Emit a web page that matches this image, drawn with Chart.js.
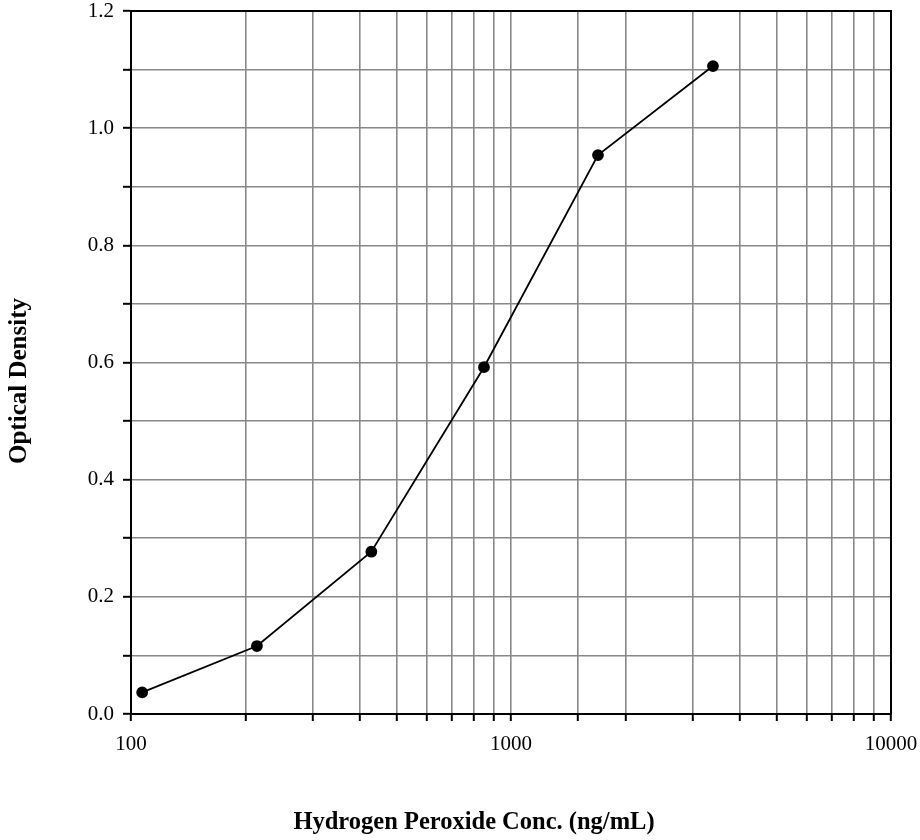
<!DOCTYPE html>
<html>
<head>
<meta charset="utf-8">
<script src="https://cdn.jsdelivr.net/npm/chart.js@4.4.1/dist/chart.umd.min.js"></script>
<style>
  body { margin: 0; background: #ffffff; }
  canvas { display: block; }
</style>
</head>
<body>
<canvas id="odChart" width="920" height="840"></canvas>
<script>
// standard curve data
const concentrations = [107, 214.5, 429, 849, 1694, 3400];
const opticalDensity = [0.037, 0.116, 0.277, 0.592, 0.954, 1.106];
const xLabelValues = [100, 1000, 10000];
const yLabelValues = [0.0, 0.2, 0.4, 0.6, 0.8, 1.0, 1.2];

const xTitle = 'Hydrogen Peroxide Conc. (ng/mL)';
const yTitle = 'Optical Density';

const serif = '"Liberation Serif", "Times New Roman", serif';

// box around plot + axis titles (titles sit off-centre in the original)
const framePlugin = {
    id: 'frame',
    afterDraw(chart) {
        const { ctx, chartArea } = chart;
        ctx.save();
        ctx.strokeStyle = '#000';
        ctx.lineWidth = 2;
        ctx.strokeRect(chartArea.left, chartArea.top,
            chartArea.right - chartArea.left, chartArea.bottom - chartArea.top);

        ctx.fillStyle = '#000';
        ctx.font = 'bold 24.5px ' + serif;
        ctx.textAlign = 'center';
        ctx.textBaseline = 'middle';
        ctx.fillText(xTitle, 474, 823);

        ctx.font = 'bold 25px ' + serif;
        ctx.translate(20, 381);
        ctx.rotate(-Math.PI / 2);
        ctx.fillText(yTitle, 0, 0);
        ctx.restore();
    }
};

const ctx = document.getElementById('odChart').getContext('2d');
new Chart(ctx, {
    type: 'line',
    data: {
        datasets: [{
            data: concentrations.map((c, i) => ({ x: c, y: opticalDensity[i] })),
            borderColor: '#000',
            backgroundColor: '#000',
            borderWidth: 1.8,
            pointRadius: 5,
            pointHoverRadius: 5,
            tension: 0
        }]
    },
    options: {
        responsive: false,
        animation: false,
        layout: {
            padding: { top: 11, right: 29, left: 0, bottom: 0 }
        },
        plugins: {
            legend: { display: false },
            tooltip: { enabled: false }
        },
        scales: {
            x: {
                type: 'logarithmic',
                min: 100,
                max: 10000,
                afterFit: (scale) => {
                    scale.height = 126;
                    scale.paddingLeft = 0;
                    scale.paddingRight = 0;
                },
                grid: {
                    color: '#888888',
                    lineWidth: 1.6,
                    tickColor: '#000',
                    tickLength: 7,
                    tickWidth: 2
                },
                border: { color: '#000', width: 2 },
                ticks: {
                    autoSkip: false,
                    maxRotation: 0,
                    padding: 11,
                    color: '#000',
                    font: { family: serif, size: 21 },
                    callback: (value) => xLabelValues.includes(value) ? String(value) : ''
                }
            },
            y: {
                min: 0,
                max: 1.2,
                afterFit: (scale) => {
                    scale.width = 131;
                    scale.paddingTop = 0;
                    scale.paddingBottom = 0;
                },
                grid: {
                    color: '#888888',
                    lineWidth: 1.6,
                    tickColor: '#000',
                    tickLength: 8,
                    tickWidth: 2
                },
                border: { color: '#000', width: 2 },
                ticks: {
                    stepSize: 0.1,
                    autoSkip: false,
                    padding: 9,
                    color: '#000',
                    font: { family: serif, size: 21 },
                    callback: (value) => yLabelValues.some(v => Math.abs(v - value) < 1e-6) ? value.toFixed(1) : ''
                }
            }
        }
    },
    plugins: [framePlugin]
});
</script>
</body>
</html>
